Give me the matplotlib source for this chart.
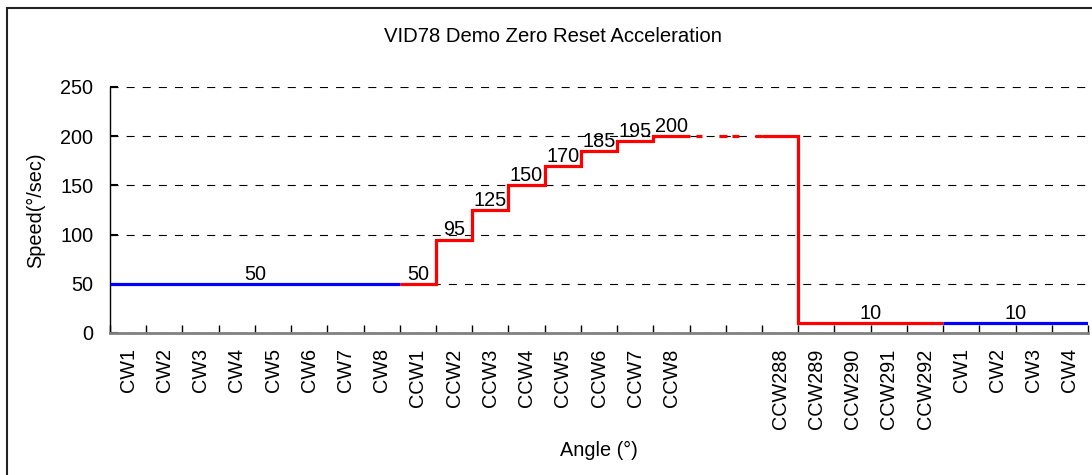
import numpy as np
import matplotlib
matplotlib.use('Agg')
import matplotlib.pyplot as plt
from matplotlib.patches import Rectangle

# Category labels along the angle axis (two blank slots mark the skipped range)
categories = ['CW1', 'CW2', 'CW3', 'CW4', 'CW5', 'CW6', 'CW7', 'CW8',
              'CCW1', 'CCW2', 'CCW3', 'CCW4', 'CCW5', 'CCW6', 'CCW7', 'CCW8',
              '', '',
              'CCW288', 'CCW289', 'CCW290', 'CCW291', 'CCW292',
              'CW1', 'CW2', 'CW3', 'CW4']

# Speed (deg/sec) held over each category
cw_start_speed = [50, 50, 50, 50, 50, 50, 50, 50]
ccw_ramp_speed = [50, 95, 125, 150, 170, 185, 195, 200]
skipped_speed = [200, 200]
ccw_end_speed = [200, 10, 10, 10, 10]
cw_end_speed = [10, 10, 10, 10]

title = 'VID78 Demo Zero Reset Acceleration'
xlabel = 'Angle (°)'
ylabel = 'Speed(°/sec)'
yticks = [0, 50, 100, 150, 200, 250]

plt.rcParams['font.family'] = ['Liberation Sans', 'DejaVu Sans']
plt.rcParams['lines.scale_dashes'] = False

BLUE = '#0000FF'
RED = '#FF0000'
FS = 14.3
LW = 2.3

fig = plt.figure(figsize=(10.92, 4.75), dpi=100)
ax = fig.add_axes([110 / 1092, 1 - 333 / 475, 978 / 1092, 246 / 475])

# segments: (values, colour, linestyle)
segments = [
    (cw_start_speed, BLUE, 'solid'),
    (ccw_ramp_speed, RED, 'solid'),
    (skipped_speed, RED, (48.2, (4.3, 12.2, 5.8, 3.6, 5.0, 11.5, 5.8, 4.3))),
    (ccw_end_speed, RED, 'solid'),
    (cw_end_speed, BLUE, 'solid'),
]

start = 0
seg_ranges = []
for vals, color, ls in segments:
    edges = np.arange(start, start + len(vals) + 1)
    ax.stairs(vals, edges, color=color, linewidth=LW, linestyle=ls,
              baseline=None, zorder=3)
    seg_ranges.append((start, start + len(vals)))
    start += len(vals)

def label(x, y):
    ax.annotate(str(y), (x, y), xytext=(0, 3), textcoords='offset points',
                ha='center', va='baseline', fontsize=FS, zorder=4)

# value labels: middle of the flat segments, every step of the ramp
a, b = seg_ranges[0]
label((a + b) / 2, cw_start_speed[0])
a, b = seg_ranges[1]
for i, v in enumerate(ccw_ramp_speed):
    label(a + i + 0.5, v)
a, b = seg_ranges[3]
label((a + 1 + b) / 2, ccw_end_speed[-1])
a, b = seg_ranges[4]
label((a + b) / 2, cw_end_speed[0])

n = len(categories)
ax.set_xlim(0, n)
ax.set_ylim(0, 250)

ax.set_xticks(np.arange(0, n + 1))
ax.set_xticklabels([])
ax.set_xticks(np.arange(n) + 0.5, minor=True)
ax.set_xticklabels(categories, minor=True, rotation=90, fontsize=FS)
ax.tick_params(axis='x', which='major', direction='in', length=6,
               width=1, color='black')
ax.tick_params(axis='x', which='minor', length=0, pad=11)

ax.set_yticks(yticks)
ax.tick_params(axis='y', direction='in', length=6, width=1.5,
               color='black', labelsize=FS, pad=12)

ax.yaxis.grid(True, color='black', linewidth=0.8, linestyle=(0, (5.8, 5.8)))
ax.xaxis.grid(False)

for s in ('top', 'right'):
    ax.spines[s].set_visible(False)
ax.spines['left'].set_color('black')
ax.spines['left'].set_linewidth(1)
ax.spines['bottom'].set_color('#808080')
ax.spines['bottom'].set_linewidth(2)

# title is centred on the whole chart area, not the plot
fig.text(553 / 1092, 1 - 36 / 475, title, fontsize=FS + 0.3,
         ha='center', va='center')
ax.set_xlabel(xlabel, fontsize=FS)
ax.xaxis.set_label_coords(0.5, (333 - 441) / 246)
ax.set_ylabel(ylabel, fontsize=FS)
ax.yaxis.set_label_coords((45 - 110) / 978, 0.5)

# chart area border
fig.patches.append(Rectangle((7 / 1092, -0.05), 1.2, 1 - 8 / 475 + 0.05,
                             transform=fig.transFigure, fill=False,
                             edgecolor='#222222', linewidth=1.5))

fig.savefig('out.png', dpi=100)
